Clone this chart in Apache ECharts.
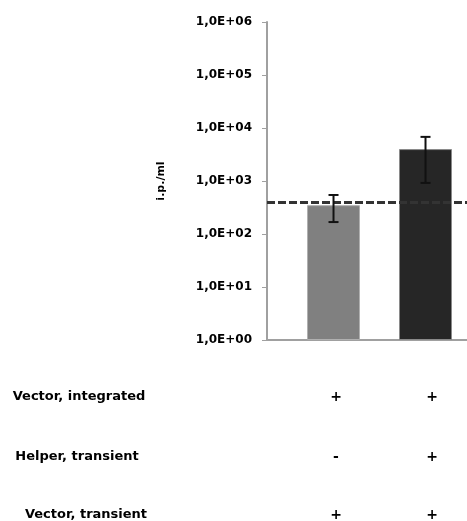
<!DOCTYPE html>
<html>
<head>
<meta charset="utf-8">
<script src="https://cdn.jsdelivr.net/npm/echarts@6/dist/echarts.min.js"></script>
<style>
  html, body { margin: 0; padding: 0; background: #fff; }
  #chart { width: 467px; height: 521px; }
</style>
</head>
<body>
<div id="chart"></div>
<script>
// Infectious particles per ml for the two transfection conditions
const conditions = ['integrated vector', 'integrated vector + helper'];
const barValues = [350, 4000];
const errLow = [168, 920];
const errHigh = [545, 6800];
const threshold = 400;
const barColors = ['#808080', '#262626'];
const yTickLabels = ['1,0E+00', '1,0E+01', '1,0E+02', '1,0E+03', '1,0E+04', '1,0E+05', '1,0E+06'];
const yAxisName = 'i.p./ml';

// Table of components under the chart
const rowLabels = ['Vector, integrated', 'Helper, transient', 'Vector, transient'];
const rowMarks = [['+', '+'], ['-', '+'], ['+', '+']];

const FONT = 'DejaVu Sans';
const chart = echarts.init(document.getElementById('chart'));

const rowY = [397, 457, 515];
const rowLabelX = [79, 77, 86];
const colX = [336, 432];
const tableGraphics = [];
rowLabels.forEach((label, r) => {
  tableGraphics.push({
    type: 'text', x: rowLabelX[r], y: rowY[r],
    style: { text: label, fill: '#000', font: 'bold 13px "' + FONT + '"', textAlign: 'center', textVerticalAlign: 'middle' }
  });
  rowMarks[r].forEach((m, c) => {
    tableGraphics.push({
      type: 'text', x: colX[c], y: rowY[r],
      style: { text: m, fill: '#000', font: 'bold 14px "' + FONT + '"', textAlign: 'center', textVerticalAlign: 'middle' }
    });
  });
});

chart.setOption({
  animation: false,
  grid: { left: 267, right: 0, top: 22, bottom: 181, containLabel: false },
  xAxis: {
    type: 'value',
    min: -0.723,
    max: 1.451,
    axisLine: { show: true, onZero: false, lineStyle: { color: '#a0a0a0', width: 2 } },
    axisTick: { show: false },
    axisLabel: { show: false },
    splitLine: { show: false }
  },
  yAxis: {
    type: 'log',
    logBase: 10,
    min: 1,
    max: 1e6,
    name: yAxisName,
    nameLocation: 'middle',
    nameGap: 100,
    nameTextStyle: { fontFamily: FONT, fontWeight: 'bold', fontSize: 11, color: '#000' },
    axisLine: { show: true, onZero: false, lineStyle: { color: '#a0a0a0', width: 2 } },
    axisTick: { show: true, length: 5, lineStyle: { color: '#a0a0a0', width: 1 } },
    splitLine: { show: false },
    axisLabel: {
      margin: 15,
      fontFamily: FONT, fontWeight: 'bold', fontSize: 12, color: '#000',
      formatter: v => yTickLabels[Math.round(Math.log10(v))] || ''
    }
  },
  series: [
    {
      type: 'bar',
      barWidth: 53,
      data: barValues.map((v, i) => ({
        value: [i, v],
        itemStyle: { color: barColors[i], borderColor: i === 0 ? '#b0b0b0' : '#8a8a8a', borderWidth: 1 }
      })),
      markLine: {
        silent: true,
        symbol: 'none',
        label: { show: false },
        lineStyle: { color: '#333', width: 3, type: [8, 3] },
        data: [{ yAxis: threshold }]
      },
      z: 2
    },
    {
      type: 'custom',
      z: 5,
      data: barValues.map((v, i) => [i, errLow[i], errHigh[i]]),
      renderItem: (params, api) => {
        const x = api.value(0);
        const lo = api.coord([x, api.value(1)]);
        const hi = api.coord([x, api.value(2)]);
        const half = 5;
        const style = { stroke: '#111', lineWidth: 2 };
        return {
          type: 'group',
          children: [
            { type: 'line', shape: { x1: lo[0], y1: lo[1], x2: hi[0], y2: hi[1] }, style },
            { type: 'line', shape: { x1: hi[0] - half, y1: hi[1], x2: hi[0] + half, y2: hi[1] }, style },
            { type: 'line', shape: { x1: lo[0] - half, y1: lo[1], x2: lo[0] + half, y2: lo[1] }, style }
          ]
        };
      }
    }
  ],
  graphic: tableGraphics
});
</script>
</body>
</html>
